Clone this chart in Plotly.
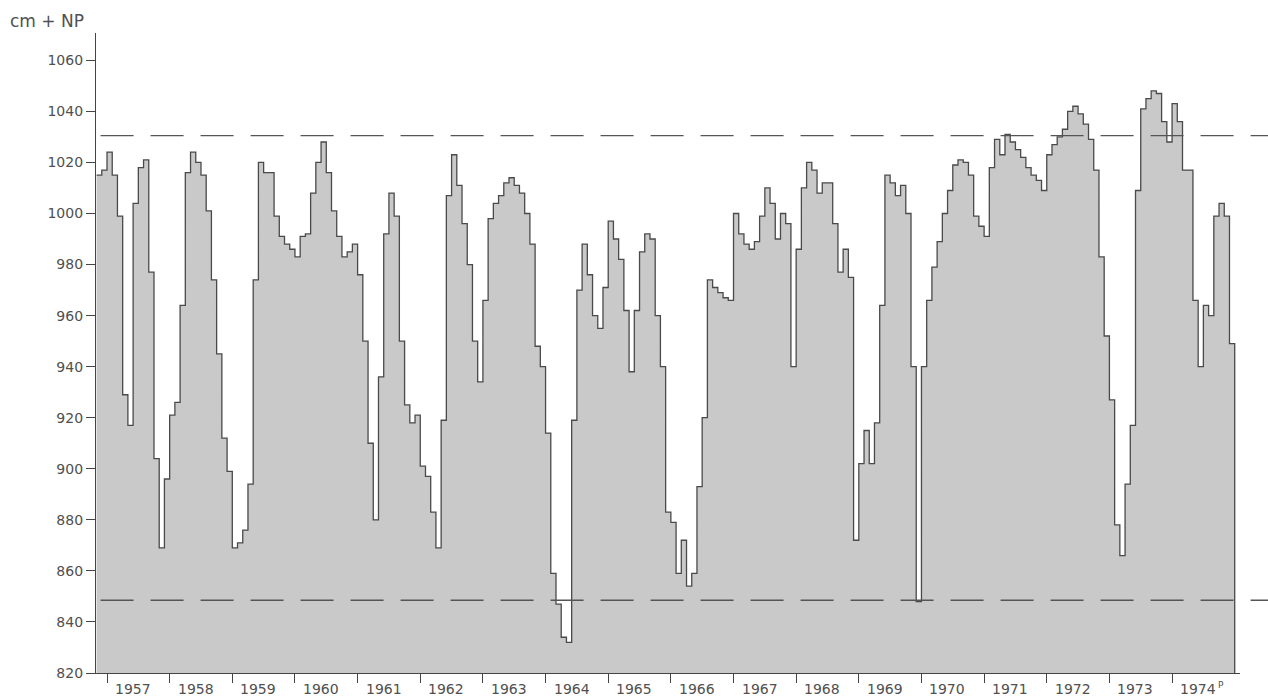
import plotly.graph_objects as go

# Monthly water level, cm above NP (start: November 1956)
START_YEAR, START_MONTH = 1956, 11
y1956 = [1015, 1017]
y1957 = [1024, 1015, 999, 929, 917, 1004, 1018, 1021, 977, 904, 869, 896]
y1958 = [921, 926, 964, 1016, 1024, 1020, 1015, 1001, 974, 945, 912, 899]
y1959 = [869, 871, 876, 894, 974, 1020, 1016, 1016, 999, 991, 988, 986]
y1960 = [983, 991, 992, 1008, 1020, 1028, 1016, 1001, 991, 983, 985, 988]
y1961 = [976, 950, 910, 880, 936, 992, 1008, 999, 950, 925, 918, 921]
y1962 = [901, 897, 883, 869, 919, 1007, 1023, 1011, 996, 980, 950, 934]
y1963 = [966, 998, 1004, 1007, 1012, 1014, 1011, 1008, 1000, 988, 948, 940]
y1964 = [914, 859, 847, 834, 832, 919, 970, 988, 976, 960, 955, 971]
y1965 = [997, 990, 982, 962, 938, 962, 985, 992, 990, 960, 940, 883]
y1966 = [879, 859, 872, 854, 859, 893, 920, 974, 971, 969, 967, 966]
y1967 = [1000, 992, 988, 986, 989, 999, 1010, 1004, 990, 1000, 996, 940]
y1968 = [986, 1010, 1020, 1017, 1008, 1012, 1012, 996, 977, 986, 975, 872]
y1969 = [902, 915, 902, 918, 964, 1015, 1012, 1007, 1011, 1000, 940, 848]
y1970 = [940, 966, 979, 989, 1000, 1009, 1019, 1021, 1020, 1015, 999, 995]
y1971 = [991, 1018, 1029, 1023, 1031, 1028, 1025, 1022, 1018, 1015, 1013, 1009]
y1972 = [1023, 1027, 1030, 1033, 1040, 1042, 1039, 1035, 1029, 1017, 983, 952]
y1973 = [927, 878, 866, 894, 917, 1009, 1041, 1045, 1048, 1047, 1036, 1028]
y1974 = [1043, 1036, 1017, 1017, 966, 940, 964, 960, 999, 1004, 999, 949]

YEAR_LABELS = ["1957", "1958", "1959", "1960", "1961", "1962", "1963", "1964", "1965",
               "1966", "1967", "1968", "1969", "1970", "1971", "1972", "1973", "1974"]
PROVISIONAL_MARK = "P"
Y_TICKS = [820, 840, 860, 880, 900, 920, 940, 960, 980, 1000, 1020, 1040, 1060]
UPPER_LEVEL = 1030.5
LOWER_LEVEL = 848.5
Y_MIN, Y_MAX = 820, 1070.7

levels = (y1956 + y1957 + y1958 + y1959 + y1960 + y1961 + y1962 + y1963 + y1964 + y1965
          + y1966 + y1967 + y1968 + y1969 + y1970 + y1971 + y1972 + y1973 + y1974)
x = [START_YEAR + (START_MONTH - 1 + i) / 12 for i in range(len(levels))]
x_end = START_YEAR + (START_MONTH - 1 + len(levels)) / 12
xs = x + [x_end, x_end]
ys = levels + [levels[-1], Y_MIN]

LINE = "#4a4a4a"
TXT = "#505050"
FONT = "DejaVu Sans"

fig = go.Figure()
fig.add_trace(go.Scatter(
    x=xs, y=ys, mode="lines", line=dict(shape="hv", color=LINE, width=1.3),
    fill="tozeroy", fillcolor="rgb(201,201,201)", hoverinfo="skip", showlegend=False))

years = list(range(1957, 1975))
x0 = START_YEAR + (START_MONTH - 1) / 12 - 0.009
x1 = x0 + 1144 / 62.65

for lvl in (UPPER_LEVEL, LOWER_LEVEL):
    fig.add_shape(type="line", xref="paper", yref="y", x0=0.004, x1=(1268 - 96) / 1144,
                  y0=lvl, y1=lvl, line=dict(color="#555", width=1.3, dash="33px,17px"),
                  layer="above")

for yr, lab in zip(years, YEAR_LABELS):
    fig.add_annotation(x=yr, y=0, xref="x", yref="paper", text=lab, showarrow=False,
                       xanchor="left", yanchor="top", xshift=6, yshift=-6,
                       font=dict(family=FONT, size=14, color=TXT))
fig.add_annotation(x=years[-1], y=0, xref="x", yref="paper", text=PROVISIONAL_MARK,
                   showarrow=False, xanchor="left", yanchor="top", xshift=44, yshift=-5,
                   font=dict(family=FONT, size=9, color=TXT))

fig.add_annotation(x=0, y=1, xref="paper", yref="paper", text="cm + NP", showarrow=False,
                   xanchor="left", yanchor="bottom", xshift=-88, yshift=0,
                   font=dict(family=FONT, size=17, color=TXT))

fig.update_xaxes(range=[x0, x1], showline=True, linecolor="#444", linewidth=1.3,
                 tickmode="array", tickvals=years, ticks="outside", ticklen=9,
                 tickcolor="#444", tickwidth=1.2, showticklabels=False,
                 showgrid=False, zeroline=False)
fig.update_yaxes(range=[Y_MIN, Y_MAX], showline=True, linecolor="#444", linewidth=1.3,
                 tickmode="array", tickvals=Y_TICKS, ticks="outside", ticklen=9,
                 tickcolor="#444", tickwidth=1.2,
                 tickfont=dict(family=FONT, size=14, color=TXT),
                 showgrid=False, zeroline=False)
fig.update_layout(width=1268, height=697, margin=dict(l=96, r=28, t=33, b=24),
                  paper_bgcolor="white", plot_bgcolor="white",
                  font=dict(family=FONT, color=TXT))
fig.write_html("out.html", config={"displayModeBar": False},
               post_script="document.body.style.margin='0';document.body.style.padding='0';")
